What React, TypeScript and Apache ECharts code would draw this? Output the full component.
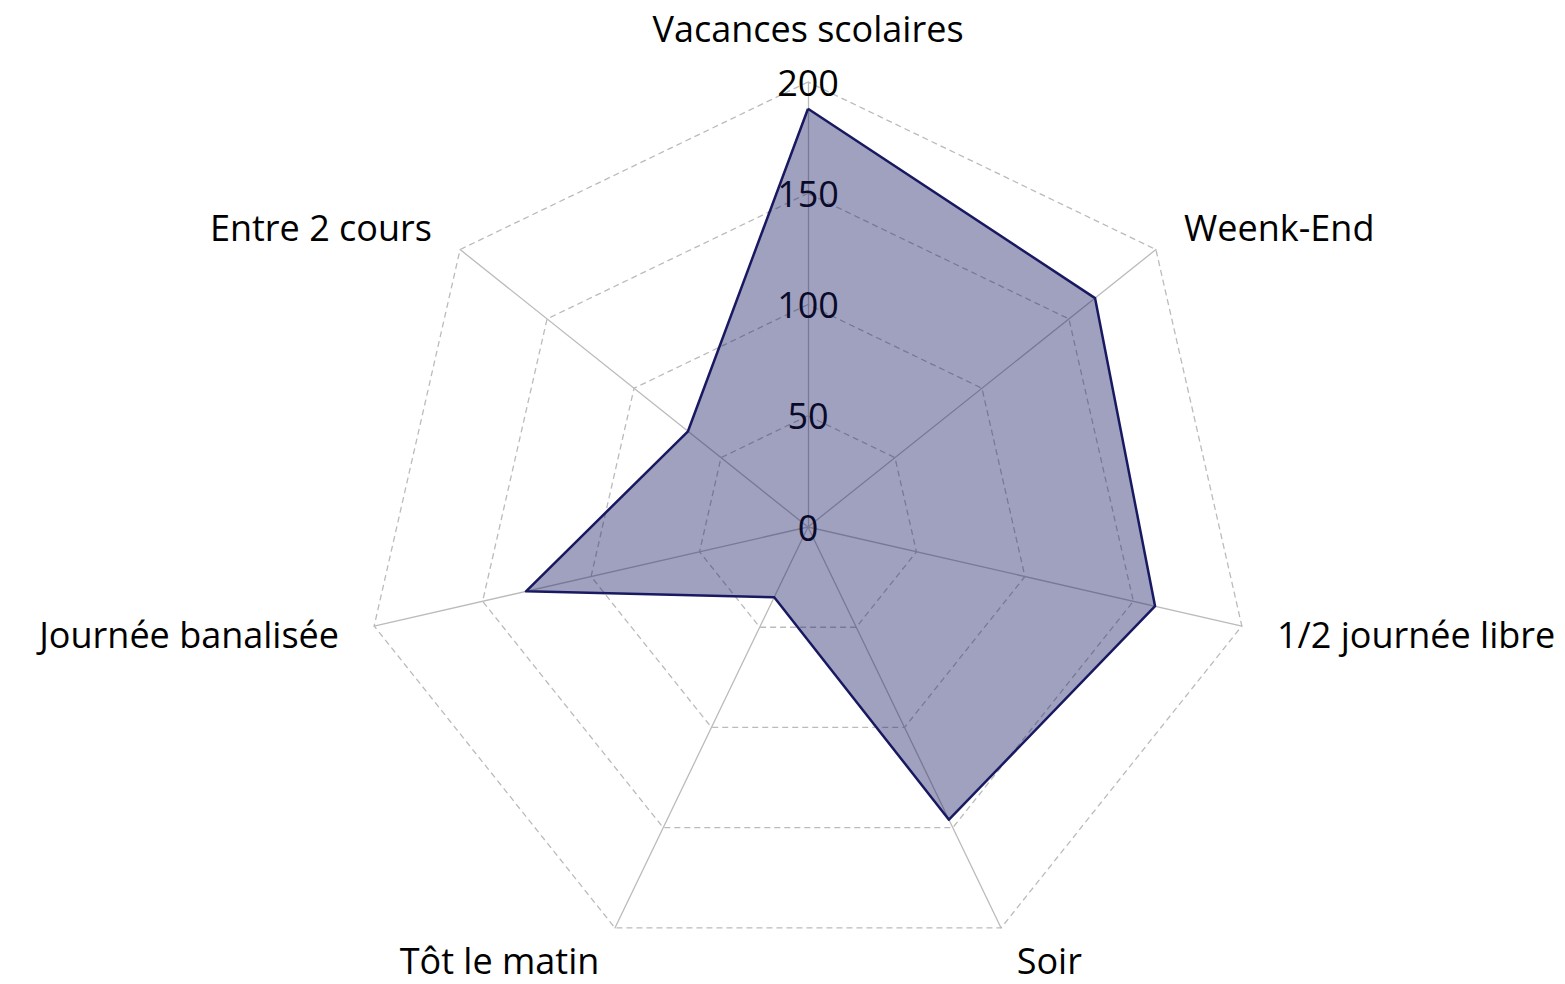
import React, { useEffect, useRef } from "react";
import * as echarts from "echarts";

const indicators = [
  "Vacances scolaires",
  "Entre 2 cours",
  "Journée banalisée",
  "Tôt le matin",
  "Soir",
  "1/2 journée libre",
  "Weenk-End",
];
const values = [188, 69, 130, 35, 146, 160, 165];
const maxValue = 200;

export default function App() {
  const ref = useRef<HTMLDivElement>(null);
  useEffect(() => {
    document.body.style.margin = "0";
    const chart = echarts.init(ref.current!, null, { renderer: "svg" });
    const font = "'Open Sans', 'Noto Sans', sans-serif";
    chart.setOption({
      animation: false,
      backgroundColor: "#ffffff",
      radar: {
        center: [808, 527],
        radius: 445,
        splitNumber: 4,
        shape: "polygon",
        indicator: indicators.map((name, i) => ({
          name,
          max: maxValue,
          min: 0,
          axisLabel: { show: i === 0 },
        })),
        axisName: {
          color: "#000",
          fontSize: 36,
          fontFamily: font,
        },
        nameGap: 36,
        splitArea: { show: false },
        splitLine: {
          lineStyle: { color: "#bbbbbb", type: [6, 4], width: 1.3 },
        },
        axisLine: {
          lineStyle: { color: "#bbbbbb", width: 1.3 },
        },
        axisLabel: {
          show: true,
          color: "#000",
          fontSize: 36,
          fontFamily: font,
          margin: 0,
          align: "center",
          verticalAlign: "middle",
        },
      },
      series: [
        {
          type: "radar",
          symbol: "none",
          data: [
            {
              value: values,
              lineStyle: { color: "#1a1a62", width: 2.5 },
              areaStyle: { color: "rgba(25,25,100,0.41)", opacity: 1 },
            },
          ],
        },
      ],
    });
    return () => chart.dispose();
  }, []);
  return <div ref={ref} style={{ width: 1565, height: 984 }} />;
}
